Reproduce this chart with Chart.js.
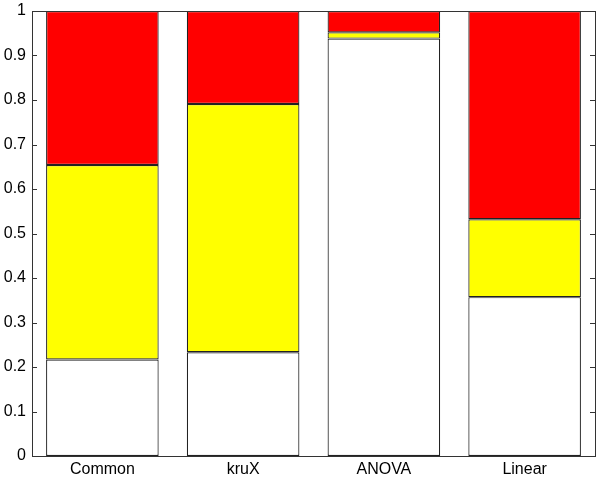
<!DOCTYPE html>
<html>
<head>
<meta charset="utf-8">
<script src="https://cdn.jsdelivr.net/npm/chart.js@4/dist/chart.umd.min.js"></script>
<style>
  html, body { margin: 0; padding: 0; background: #fff; }
  #wrap { width: 600px; height: 478px; }
</style>
</head>
<body>
<div id="wrap"><canvas id="chart" width="600" height="478"></canvas></div>
<script>
const categories = ["Common", "kruX", "ANOVA", "Linear"];
// segment heights, bottom to top
const whiteVals = [0.217, 0.233, 0.938, 0.357];
const yellowVals = [0.437, 0.558, 0.014, 0.175];
const redVals = [0.346, 0.209, 0.048, 0.468];
const yTicks = [0, 0.1, 0.2, 0.3, 0.4, 0.5, 0.6, 0.7, 0.8, 0.9, 1];

const axisColor = "#333333";

// box round the plot plus inward ticks on left and right, like the original
const boxAxes = {
  id: "boxAxes",
  afterDatasetsDraw(chart) {
    const { ctx, chartArea: a, scales } = chart;
    ctx.save();
    ctx.strokeStyle = axisColor;
    ctx.lineWidth = 1;
    ctx.strokeRect(Math.round(a.left) + 0.5, Math.round(a.top) + 0.5,
      Math.round(a.right - a.left), Math.round(a.bottom - a.top));
    ctx.beginPath();
    for (const v of yTicks) {
      const y = Math.round(scales.y.getPixelForValue(v)) + 0.5;
      ctx.moveTo(a.left, y);
      ctx.lineTo(a.left + 5, y);
      ctx.moveTo(a.right - 5, y);
      ctx.lineTo(a.right, y);
    }
    ctx.stroke();
    ctx.restore();
  },
};

const mkSet = (label, data, color) => ({
  label,
  data,
  backgroundColor: color,
  borderColor: "#222222",
  borderWidth: 1.2,
  borderSkipped: false,
  categoryPercentage: 0.8,
  barPercentage: 1,
});

new Chart(document.getElementById("chart"), {
  type: "bar",
  data: {
    labels: categories,
    datasets: [
      mkSet("low", whiteVals, "#ffffff"),
      mkSet("mid", yellowVals, "#ffff00"),
      mkSet("high", redVals, "#ff0000"),
    ],
  },
  options: {
    responsive: false,
    animation: false,
    layout: { padding: { top: 11, right: 5, left: 0, bottom: 0 } },
    plugins: { legend: { display: false }, tooltip: { enabled: false } },
    scales: {
      x: {
        stacked: true,
        grid: { display: false, drawTicks: false },
        border: { display: false },
        ticks: {
          color: "#000",
          padding: 4,
          font: { family: "Liberation Sans, Arial, sans-serif", size: 16 },
        },
        afterFit(s) { s.height = 22; s.paddingLeft = 0; s.paddingRight = 0; },
      },
      y: {
        stacked: true,
        min: 0,
        max: 1,
        grid: { display: false, drawTicks: false },
        border: { display: false },
        afterBuildTicks(s) { s.ticks = yTicks.map((v) => ({ value: v })); },
        ticks: {
          color: "#000",
          padding: 6,
          font: { family: "Liberation Sans, Arial, sans-serif", size: 16 },
          callback: (v) => String(Number(v.toFixed(1))),
        },
        afterFit(s) { s.width = 32; s.paddingTop = 0; s.paddingBottom = 0; },
      },
    },
  },
  plugins: [boxAxes],
});
</script>
</body>
</html>
